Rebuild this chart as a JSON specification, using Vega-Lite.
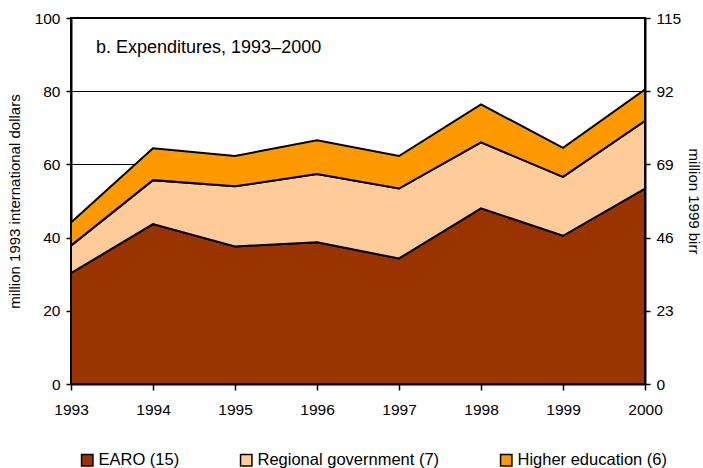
{
  "$schema": "https://vega.github.io/schema/vega-lite/v6.json",
  "width": 574,
  "height": 366,
  "autosize": {"type": "none"},
  "padding": {"left": 71, "top": 18, "right": 58, "bottom": 84},
  "background": "white",
  "config": {
    "font": "Liberation Sans",
    "view": {"stroke": "black", "strokeWidth": 2},
    "axis": {
      "domainColor": "black",
      "domainWidth": 2,
      "tickColor": "black",
      "tickWidth": 1.5,
      "labelColor": "black",
      "titleColor": "black",
      "labelFont": "Liberation Sans",
      "titleFont": "Liberation Sans",
      "titleFontWeight": "normal",
      "labelFontSize": 15.5,
      "titleFontSize": 15
    }
  },
  "title": {
    "text": "b. Expenditures, 1993–2000",
    "anchor": "start",
    "frame": "group",
    "orient": "top",
    "offset": 0,
    "dx": 25,
    "dy": 60,
    "baseline": "alphabetic",
    "fontSize": 18,
    "fontWeight": "normal",
    "font": "Liberation Sans",
    "color": "black"
  },
  "data": {
    "values": [
      {"year": 1993, "series": "EARO (15)", "rank": 1, "value": 30.3},
      {"year": 1993, "series": "Regional government (7)", "rank": 2, "value": 7.5},
      {"year": 1993, "series": "Higher education (6)", "rank": 3, "value": 6.3},
      {"year": 1994, "series": "EARO (15)", "rank": 1, "value": 43.7},
      {"year": 1994, "series": "Regional government (7)", "rank": 2, "value": 12.0},
      {"year": 1994, "series": "Higher education (6)", "rank": 3, "value": 8.7},
      {"year": 1995, "series": "EARO (15)", "rank": 1, "value": 37.6},
      {"year": 1995, "series": "Regional government (7)", "rank": 2, "value": 16.4},
      {"year": 1995, "series": "Higher education (6)", "rank": 3, "value": 8.3},
      {"year": 1996, "series": "EARO (15)", "rank": 1, "value": 38.7},
      {"year": 1996, "series": "Regional government (7)", "rank": 2, "value": 18.7},
      {"year": 1996, "series": "Higher education (6)", "rank": 3, "value": 9.2},
      {"year": 1997, "series": "EARO (15)", "rank": 1, "value": 34.3},
      {"year": 1997, "series": "Regional government (7)", "rank": 2, "value": 19.1},
      {"year": 1997, "series": "Higher education (6)", "rank": 3, "value": 8.9},
      {"year": 1998, "series": "EARO (15)", "rank": 1, "value": 48.0},
      {"year": 1998, "series": "Regional government (7)", "rank": 2, "value": 18.0},
      {"year": 1998, "series": "Higher education (6)", "rank": 3, "value": 10.4},
      {"year": 1999, "series": "EARO (15)", "rank": 1, "value": 40.5},
      {"year": 1999, "series": "Regional government (7)", "rank": 2, "value": 16.1},
      {"year": 1999, "series": "Higher education (6)", "rank": 3, "value": 7.9},
      {"year": 2000, "series": "EARO (15)", "rank": 1, "value": 53.4},
      {"year": 2000, "series": "Regional government (7)", "rank": 2, "value": 18.5},
      {"year": 2000, "series": "Higher education (6)", "rank": 3, "value": 8.6}
    ]
  },
  "layer": [
    {
      "mark": {"type": "area", "stroke": "black", "strokeWidth": 2, "strokeJoin": "miter"},
      "encoding": {
        "x": {
          "field": "year",
          "type": "quantitative",
          "scale": {"domain": [1993, 2000], "nice": false, "zero": false},
          "axis": {
            "values": [1993, 1994, 1995, 1996, 1997, 1998, 1999, 2000],
            "format": "d",
            "title": null,
            "grid": false,
            "tickSize": 6,
            "labelPadding": 12,
            "labelFlush": false,
            "labelOverlap": false
          }
        },
        "y": {
          "field": "value",
          "type": "quantitative",
          "stack": "zero",
          "scale": {"domain": [0, 100], "nice": false},
          "axis": {
            "values": [0, 20, 40, 60, 80, 100],
            "title": "million 1993 international dollars",
            "grid": true,
            "gridColor": "black",
            "gridOpacity": 1,
            "gridWidth": 1.2,
            "tickSize": 5,
            "labelPadding": 6,
            "titlePadding": 12
          }
        },
        "order": {"field": "rank", "type": "quantitative", "sort": "ascending"},
        "color": {
          "field": "series",
          "type": "nominal",
          "sort": ["EARO (15)", "Regional government (7)", "Higher education (6)"],
          "scale": {
            "domain": ["EARO (15)", "Regional government (7)", "Higher education (6)"],
            "range": ["#993300", "#FFCC99", "#FF9900"]
          },
          "legend": {
            "orient": "none",
            "direction": "horizontal",
            "legendX": 8,
            "legendY": 434,
            "title": null,
            "symbolType": "square",
            "symbolSize": 130,
            "symbolStrokeColor": "black",
            "symbolStrokeWidth": 1.5,
            "symbolOpacity": 1,
            "labelFontSize": 16.5,
            "labelColor": "black",
            "labelFont": "Liberation Sans",
            "labelOffset": 3,
            "columnPadding": 57,
            "labelLimit": 400
          }
        }
      }
    },
    {
      "mark": {"type": "rule", "opacity": 0},
      "encoding": {
        "y": {
          "datum": 0,
          "type": "quantitative",
          "scale": {"domain": [0, 115], "nice": false},
          "axis": {
            "orient": "right",
            "values": [0, 23, 46, 69, 92, 115],
            "title": "million 1999 birr",
            "titleAngle": 90,
            "grid": false,
            "tickSize": 5,
            "labelPadding": 6,
            "titlePadding": 5
          }
        }
      }
    }
  ],
  "resolve": {"scale": {"y": "independent"}}
}
